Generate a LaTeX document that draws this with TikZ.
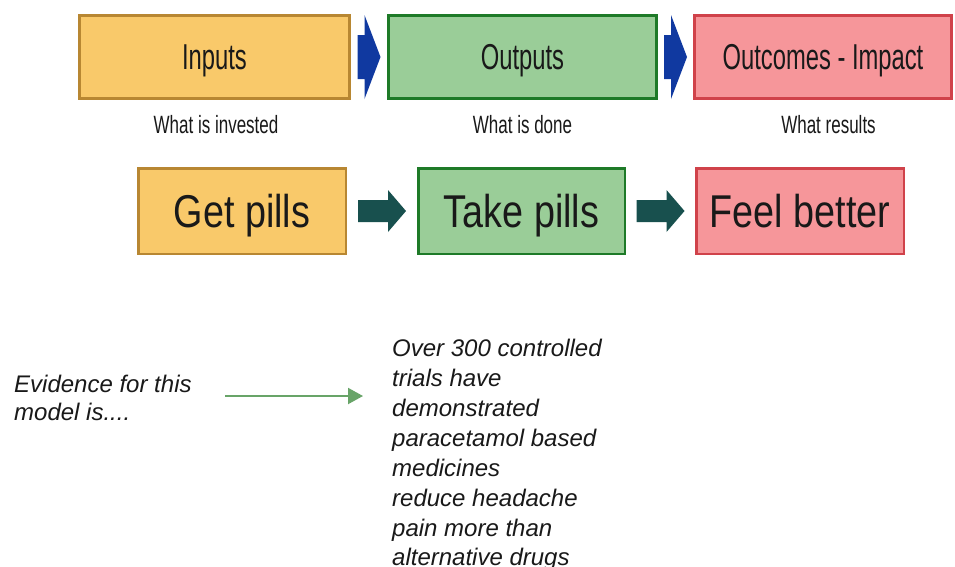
\documentclass[tikz,border=0pt]{standalone}
\usepackage{fontspec}
\setmainfont{Liberation Sans}
\newfontfamily\topfont[FakeStretch=0.66]{Liberation Sans}
\newfontfamily\labfont[FakeStretch=0.68]{Liberation Sans}
\newfontfamily\bigfont[FakeStretch=0.82]{Liberation Sans}
\usetikzlibrary{calc,arrows.meta}
\definecolor{orfill}{RGB}{249,201,106}
\definecolor{ordraw}{RGB}{184,135,50}
\definecolor{grfill}{RGB}{154,205,152}
\definecolor{grdraw}{RGB}{30,122,40}
\definecolor{rdfill}{RGB}{246,150,154}
\definecolor{rddraw}{RGB}{208,66,74}
\definecolor{bluearr}{RGB}{16,57,160}
\definecolor{tealarr}{RGB}{24,80,78}
\definecolor{greenline}{RGB}{104,164,104}
\definecolor{txt}{RGB}{25,25,25}
\tikzset{
  topbox/.style={draw, line width=3pt, inner sep=0pt, minimum height=83pt,
    font=\topfont\fontsize{36}{40}\selectfont, text=txt, text height=25.8pt, text depth=0pt},
  botbox/.style={draw, line width=2.5pt, inner sep=0pt, minimum height=85.5pt,
    font=\bigfont\fontsize{46}{50}\selectfont, text=txt, text height=33pt, text depth=0pt},
  sublabel/.style={anchor=base, inner sep=0pt, font=\labfont\fontsize{25}{28}\selectfont, text=txt},
  ittext/.style={anchor=base west, inner sep=0pt, font=\itshape\fontsize{24}{30}\selectfont, text=txt},
}
\begin{document}
\begin{tikzpicture}[x=1pt,y=-1pt]
\fill[white] (0,0) rectangle (955,566);
\useasboundingbox (0,0) rectangle (955,566);
% top row
\node[topbox, fill=orfill, draw=ordraw, minimum width=270pt] (inputs) at (214.5,57) {Inputs};
\node[topbox, fill=grfill, draw=grdraw, minimum width=268pt] (outputs) at (522.5,57) {Outputs};
\node[topbox, fill=rdfill, draw=rddraw, minimum width=257pt] (outcomes) at (823,57) {Outcomes - Impact};
\fill[bluearr, shift={($(inputs.east)!0.5!(outputs.west)$)}]
  (-11.5,-22) -- (-4.5,-22) -- (-4.5,-42) -- (11.5,0) -- (-4.5,42) -- (-4.5,22) -- (-11.5,22) -- cycle;
\fill[bluearr, shift={($(outputs.east)!0.5!(outcomes.west)$)}]
  (-11.5,-22) -- (-4.5,-22) -- (-4.5,-42) -- (11.5,0) -- (-4.5,42) -- (-4.5,22) -- (-11.5,22) -- cycle;
\node[sublabel] (l1) at (216,133) {What is invested};
\node[sublabel] (l2) at (522.5,133) {What is done};
\node[sublabel] (l3) at (828.5,133) {What results};
% bottom row
\node[botbox, fill=orfill, draw=ordraw, minimum width=207.5pt] (get) at (242,211) {Get pills};
\node[botbox, fill=grfill, draw=grdraw, minimum width=206.5pt] (take) at (521.5,211) {Take pills};
\node[botbox, fill=rdfill, draw=rddraw, minimum width=207.5pt] (feel) at (800,211) {Feel better};
\fill[tealarr, shift={($(get.east)!0.5!(take.west)$)}]
  (-24,-11) -- (6,-11) -- (6,-21) -- (24,0) -- (6,21) -- (6,11) -- (-24,11) -- cycle;
\fill[tealarr, shift={($(take.east)!0.5!(feel.west)$)}]
  (-24,-11) -- (6,-11) -- (6,-21) -- (24,0) -- (6,21) -- (6,11) -- (-24,11) -- cycle;
% evidence
\node[ittext] (e1) at (14,392) {Evidence for this};
\node[ittext] (e2) at (14,420) {model is....};
\coordinate (gs) at (225,396);
\coordinate (ge) at (363,396);
\draw[greenline, line width=2pt, -{Triangle[length=15pt,width=16pt]}] (gs) -- (ge);
\node[ittext] (r1) at (392,356) {Over 300 controlled};
\node[ittext] (r2) at (392,386) {trials have};
\node[ittext] (r3) at (392,416) {demonstrated};
\node[ittext] (r4) at (392,446) {paracetamol based};
\node[ittext] (r5) at (392,476) {medicines};
\node[ittext] (r6) at (392,506) {reduce headache};
\node[ittext] (r7) at (392,536) {pain more than};
\node[ittext] (r8) at (392,565) {alternative drugs};
\end{tikzpicture}
\end{document}
